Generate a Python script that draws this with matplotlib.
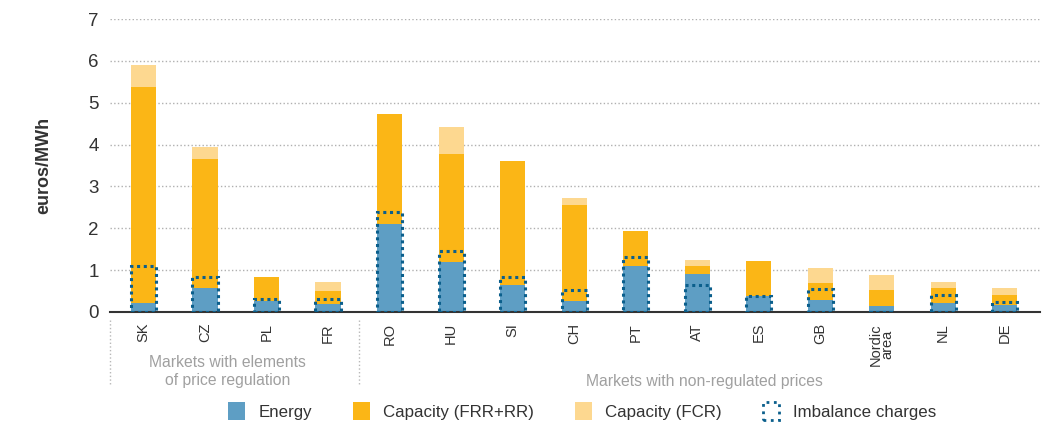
import numpy as np
import matplotlib
matplotlib.use("Agg")
from matplotlib import pyplot as plt
from matplotlib.patches import Patch

plt.rcParams['font.family'] = ['Liberation Sans Narrow', 'Liberation Sans', 'DejaVu Sans']

countries = ["SK", "CZ", "PL", "FR", "RO", "HU", "SI", "CH", "PT", "AT", "ES", "GB",
             "Nordic\narea", "NL", "DE"]
energy = [0.22, 0.58, 0.26, 0.19, 2.09, 1.18, 0.63, 0.27, 1.10, 0.91, 0.37, 0.28, 0.13, 0.22, 0.16]
cap_frr = [5.16, 3.07, 0.57, 0.32, 2.63, 2.60, 2.97, 2.29, 0.83, 0.19, 0.84, 0.42, 0.40, 0.35, 0.24]
cap_fcr = [0.53, 0.30, 0.01, 0.21, 0.00, 0.63, 0.00, 0.16, 0.00, 0.14, 0.00, 0.35, 0.35, 0.14, 0.17]
imbalance = [1.10, 0.84, 0.30, 0.30, 2.39, 1.46, 0.83, 0.53, 1.32, 0.65, 0.38, 0.54, 0.0, 0.41, 0.24]

c_energy = '#5e9ec4'
c_frr = '#fbb616'
c_fcr = '#fdd890'
c_imb = '#0b5f8c'

fig = plt.figure(figsize=(10.45, 4.26), dpi=100)
ax = fig.add_axes([0.105, 0.268, 0.89, 0.687])

x = np.arange(len(countries))
w = 0.41
energy = np.array(energy)
cap_frr = np.array(cap_frr)
cap_fcr = np.array(cap_fcr)

ax.bar(x, energy, w, color=c_energy, zorder=2)
ax.bar(x, cap_frr, w, bottom=energy, color=c_frr, zorder=2)
ax.bar(x, cap_fcr, w, bottom=energy + cap_frr, color=c_fcr, zorder=2)
ax.bar(x, imbalance, w, fill=False, edgecolor=c_imb, linestyle=(0, (1, 1.2)),
       linewidth=2.2, zorder=3)

ax.set_xlim(-0.55, 14.57)
ax.set_ylim(0, 7)
ax.set_yticks(range(8))
ax.tick_params(axis='y', length=0, labelsize=13.5, pad=8, colors='#333333')
ax.set_xticks(x)
ax.set_xticklabels(countries, rotation=90, fontsize=10.5, color='#333333', linespacing=0.85)
ax.tick_params(axis='x', length=0, pad=8)
ax.yaxis.grid(True, linestyle=':', color='#b0b0b0', linewidth=1)
ax.set_axisbelow(True)
for s in ['left', 'right', 'top']:
    ax.spines[s].set_visible(False)
ax.spines['bottom'].set_color('#333333')
ax.spines['bottom'].set_linewidth(1.5)

ax.set_ylabel('euros/MWh', fontsize=13, fontweight='bold', labelpad=26, color='#333333')

# group separators below the axis
for xs in [-0.55, 3.5]:
    ax.plot([xs, xs], [-0.19, -1.75], linestyle=':', color='#b8b8b8', linewidth=1,
            clip_on=False)
ax.text(1.37, -1.43, 'Markets with elements\nof price regulation', ha='center', va='center',
        fontsize=11.3, color='#a0a0a0', linespacing=1.3, clip_on=False)
ax.text(9.12, -1.67, 'Markets with non-regulated prices', ha='center', va='center',
        fontsize=11.3, color='#a0a0a0', clip_on=False)

handles = [
    Patch(facecolor=c_energy, label='Energy'),
    Patch(facecolor=c_frr, label='Capacity (FRR+RR)'),
    Patch(facecolor=c_fcr, label='Capacity (FCR)'),
    Patch(facecolor='none', edgecolor=c_imb, linestyle=':', linewidth=2, label='Imbalance charges'),
]
fig.legend(handles=handles, loc='center', bbox_to_anchor=(0.557, 0.035), ncol=4,
           frameon=False, fontsize=12.2, handlelength=1.0, handleheight=1.2,
           columnspacing=2.4, handletextpad=0.8, labelcolor='#333333')

fig.savefig('out.png', dpi=100)
